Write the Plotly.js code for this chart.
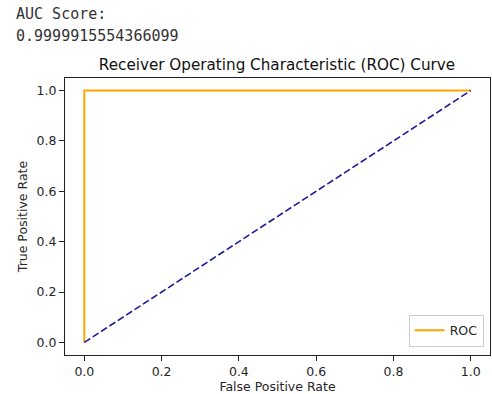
<!DOCTYPE html>
<html>
<head>
<meta charset="utf-8">
<script src="https://cdn.plot.ly/plotly-3.0.1.min.js"></script>
<style>html,body{margin:0;padding:0;background:#fff;}#chart{width:492px;height:394px;}</style>
</head>
<body>
<div id="chart"></div>
<script>
const fpr = [0, 0, 1];
const tpr = [0, 1, 1];
const diagX = [0, 1];
const diagY = [0, 1];
const aucLabel = "AUC Score:";
const aucValue = "0.9999915554366099";
const tickVals = [0, 0.2, 0.4, 0.6, 0.8, 1.0];
const tickText = ["0.0", "0.2", "0.4", "0.6", "0.8", "1.0"];

const font = "DejaVu Sans, sans-serif";
const traces = [
  {x: fpr, y: tpr, mode: "lines", name: "ROC", line: {color: "orange", width: 2}},
  {x: diagX, y: diagY, mode: "lines", name: "diag", showlegend: false, line: {color: "#1a1a9a", width: 1.6, dash: "7px,3px"}}
];
const axisCommon = {
  showgrid: false, zeroline: false, showline: true, mirror: true, linecolor: "#222", linewidth: 1,
  ticks: "outside", ticklen: 5, tickcolor: "#222", tickfont: {family: font, size: 12.5, color: "#262626"},
  tickvals: tickVals, ticktext: tickText
};
const layout = {
  width: 492, height: 394,
  margin: {l: 65, r: 2, t: 78, b: 39},
  paper_bgcolor: "#fff", plot_bgcolor: "#fff",
  title: {text: "Receiver Operating Characteristic (ROC) Curve", font: {family: font, size: 15.2, color: "#111"}, x: 0.563, xanchor: "center", y: 0.835, yanchor: "middle"},
  xaxis: Object.assign({}, axisCommon, {range: [-0.05, 1.05], title: {text: "False Positive Rate", font: {family: font, size: 12.5, color: "#262626"}, standoff: 4}}),
  yaxis: Object.assign({}, axisCommon, {range: [-0.05, 1.05], title: {text: "True Positive Rate", font: {family: font, size: 12.5, color: "#262626"}, standoff: 6}}),
  showlegend: true,
  legend: {x: 0.985, y: 0.03, xanchor: "right", yanchor: "bottom", bgcolor: "rgba(255,255,255,0.8)", bordercolor: "#ccc", borderwidth: 1, font: {family: font, size: 12.5, color: "#262626"}},
  annotations: [
    {text: aucLabel, xref: "paper", yref: "paper", x: -0.12, y: 1.23, xanchor: "left", yanchor: "middle", showarrow: false, font: {family: "DejaVu Sans Mono, monospace", size: 15, color: "#333"}},
    {text: aucValue, xref: "paper", yref: "paper", x: -0.12, y: 1.15, xanchor: "left", yanchor: "middle", showarrow: false, font: {family: "DejaVu Sans Mono, monospace", size: 15, color: "#333"}}
  ]
};
Plotly.newPlot("chart", traces, layout, {displayModeBar: false, staticPlot: true});
</script>
</body>
</html>
